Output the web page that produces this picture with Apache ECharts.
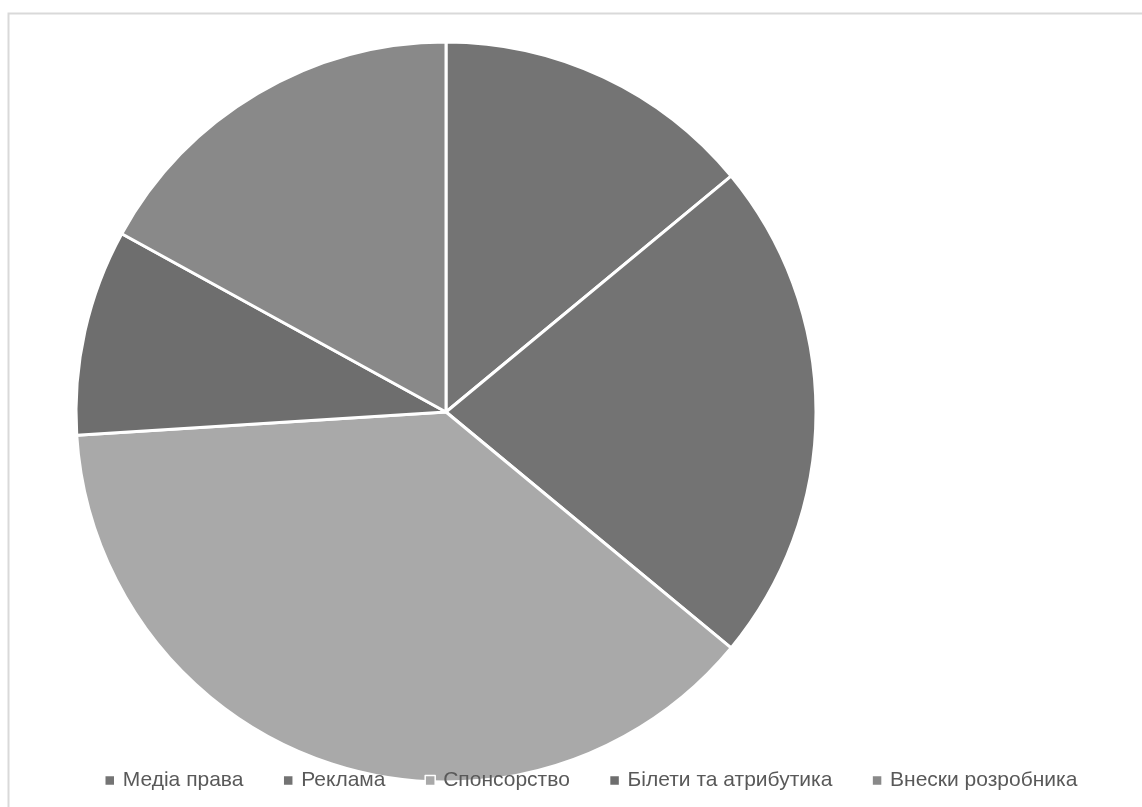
<!DOCTYPE html>
<html>
<head>
<meta charset="utf-8">
<script src="https://cdn.jsdelivr.net/npm/echarts@6/dist/echarts.min.js"></script>
<style>
  html, body { margin: 0; padding: 0; background: #fff; }
  #chart { width: 1142px; height: 807px; }
</style>
</head>
<body>
<div id="chart"></div>
<script>
// Revenue shares by source (%)
const categories = ['Медіа права', 'Реклама', 'Спонсорство', 'Білети та атрибутика', 'Внески розробника'];
const shares = [14, 22, 38, 9, 17];
const sliceColors = ['#747474', '#737373', '#a9a9a9', '#6e6e6e', '#898989'];

const chart = echarts.init(document.getElementById('chart'), null, { renderer: 'canvas' });

chart.setOption({
  animation: false,
  backgroundColor: '#ffffff',
  graphic: [{
    type: 'rect',
    left: 6, top: 11,
    shape: { width: 1160, height: 820 },
    style: { fill: 'none', stroke: '#d9d9d9', lineWidth: 2 },
    z: 0
  }],
  legend: {
    left: 99,
    top: 765,
    icon: 'rect',
    itemWidth: 10,
    itemHeight: 10,
    itemGap: 39,
    itemStyle: { borderColor: '#ffffff', borderWidth: 1.5 },
    textStyle: {
      fontFamily: 'Liberation Sans',
      fontSize: 21,
      color: '#595959',
      padding: [0, 0, 0, 3]
    },
    z: 10
  },
  series: [{
    type: 'pie',
    center: [446, 412],
    radius: 370,
    startAngle: 90,
    clockwise: true,
    label: { show: false },
    labelLine: { show: false },
    itemStyle: { borderColor: '#ffffff', borderWidth: 3 },
    emphasis: { disabled: true },
    data: categories.map((name, i) => ({
      name: name,
      value: shares[i],
      itemStyle: { color: sliceColors[i] }
    }))
  }]
});
</script>
</body>
</html>
